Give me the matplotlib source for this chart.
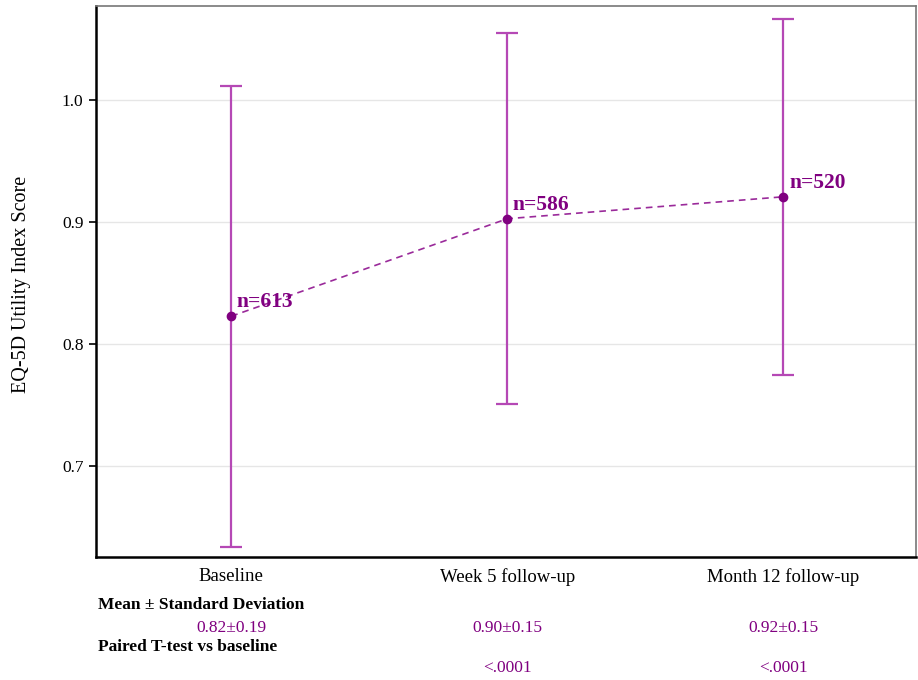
import matplotlib
matplotlib.use("Agg")
import matplotlib.pyplot as plt
import matplotlib.transforms as mtrans

categories = ["Baseline", "Week 5 follow-up", "Month 12 follow-up"]
means = [0.823, 0.903, 0.921]
sds = [0.189, 0.152, 0.146]
n_labels = ["n=613", "n=586", "n=520"]
mean_sd_text = ["0.82\u00b10.19", "0.90\u00b10.15", "0.92\u00b10.15"]
pvalue_text = ["", "<.0001", "<.0001"]
yticks = [0.7, 0.8, 0.9, 1.0]

plt.rcParams['font.family'] = ['Liberation Serif', 'DejaVu Serif']

fig = plt.figure(figsize=(9.18, 6.8), dpi=100)
ax = fig.add_axes([96/918, 1-557/680, (916-96)/918, (557-6)/680])

x = list(range(len(categories)))
ax.errorbar(x, means, yerr=sds, fmt='none', ecolor='#b548b5', elinewidth=1.6,
            capsize=8, capthick=1.6, zorder=3)
ax.plot(x, means, linestyle=(0, (4, 3)), color='#9a2a9a', linewidth=1.2, zorder=4)
ax.plot(x, means, 'o', color='#800080', markersize=6, zorder=5)
for xi, m, lab in zip(x, means, n_labels):
    ax.annotate(lab, (xi, m), xytext=(4, 3), textcoords='offset points',
                ha='left', va='bottom', fontsize=15.5, fontweight='bold', color='#800080', zorder=6)

ax.set_xlim(-0.49, 2.48)
ax.set_ylim(0.6255, 1.0775)
ax.set_yticks(yticks)
ax.set_yticklabels([f"{v:.1f}" for v in yticks], fontsize=12.5)
ax.set_xticks(x)
ax.set_xticklabels(categories, fontsize=13.5)
ax.tick_params(axis='x', length=0, pad=8)
ax.tick_params(axis='y', length=5, width=1.2, pad=4)
ax.yaxis.grid(True, color='#e6e6e6', linewidth=1)
ax.set_axisbelow(True)
ax.set_ylabel("EQ-5D Utility Index Score", fontsize=14.5, va='center')
ax.yaxis.set_label_coords((22-96)/820, 0.495)

ax.spines['left'].set_linewidth(1.8)
ax.spines['bottom'].set_linewidth(1.8)
ax.spines['left'].set_color('black')
ax.spines['bottom'].set_color('black')
ax.spines['top'].set_color('#777777')
ax.spines['right'].set_color('#777777')
ax.spines['top'].set_linewidth(1.2)
ax.spines['right'].set_linewidth(1.2)

def fy(py):
    return 1 - py/680

fig.text(98/918, fy(605), "Mean \u00b1 Standard Deviation", fontsize=12.5, fontweight='bold',
         va='center', ha='left')
fig.text(98/918, fy(647), "Paired T-test vs baseline", fontsize=12.5, fontweight='bold',
         va='center', ha='left')
blend = mtrans.blended_transform_factory(ax.transData, fig.transFigure)
for xi, t in zip(x, mean_sd_text):
    fig.text(xi, fy(628), t, transform=blend, ha='center', va='center', fontsize=12.5, color='#800080')
for xi, t in zip(x, pvalue_text):
    if t:
        fig.text(xi, fy(668), t, transform=blend, ha='center', va='center', fontsize=12.5, color='#800080')

fig.savefig("out.png", dpi=100)
